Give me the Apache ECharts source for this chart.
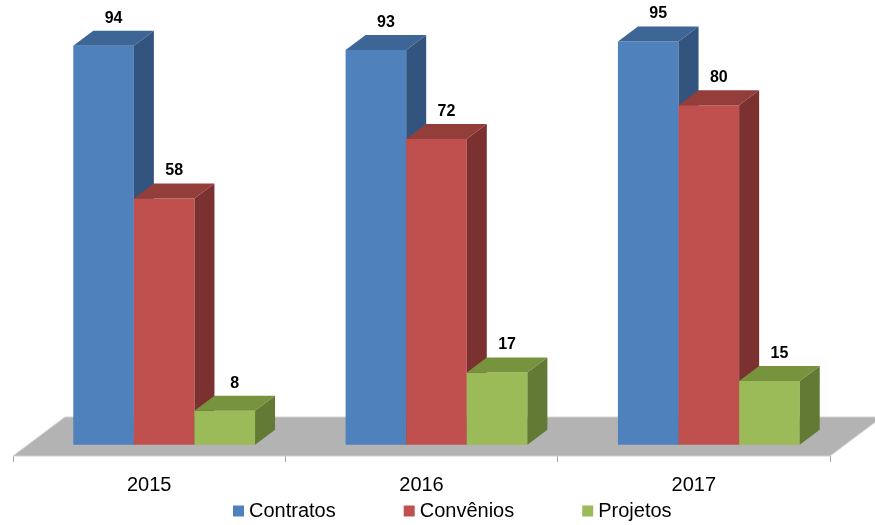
<!DOCTYPE html>
<html>
<head>
<meta charset="utf-8">
<script src="https://cdn.jsdelivr.net/npm/echarts@6/dist/echarts.min.js"></script>
<style>
  html, body { margin: 0; padding: 0; background: #ffffff; }
  #chart { width: 875px; height: 525px; }
</style>
</head>
<body>
<div id="chart"></div>
<script>
// Categories and series values
const years = ['2015', '2016', '2017'];
const contratos = [94, 93, 95];
const convenios = [58, 72, 80];
const projetos = [8, 17, 15];
const seriesNames = ['Contratos', 'Convênios', 'Projetos'];

// Face colours: front, top, side
const palette = [
  { front: '#4f81bd', top: '#3d6696', side: '#32547e' },
  { front: '#c0504d', top: '#943e3b', side: '#7a3130' },
  { front: '#9bbb59', top: '#77933d', side: '#637a34' }
];

// Oblique projection of the depth axis
const SLOPE = 0.75;       // vertical rise per horizontal pixel of depth
const BAR_FRONT = 15;     // depth where bar fronts sit
const BAR_DEPTH = 20;     // bar thickness in depth
const FLOOR_DEPTH = 52;   // floor depth
const BAR_FRAC = 0.2225;  // bar width as a share of the category band

function barRenderer(k) {
  return function (params, api) {
    const ci = api.value(0);
    const v = api.value(1);
    const base = api.coord([ci, 0]);
    const top = api.coord([ci, v]);
    const band = api.size([1, 0])[0];
    const bw = band * BAR_FRAC;
    const gx = base[0] - 1.5 * bw + k * bw;
    const x0 = gx + BAR_FRONT, x1 = x0 + bw;
    const yb = base[1] - BAR_FRONT * SLOPE;
    const yt = top[1] - BAR_FRONT * SLOPE;
    const dx = BAR_DEPTH, dy = BAR_DEPTH * SLOPE;
    const c = palette[k];
    return {
      type: 'group',
      children: [
        { type: 'polygon', shape: { points: [[x0, yb], [x1, yb], [x1, yt], [x0, yt]] },
          style: { fill: c.front } },
        { type: 'polygon', shape: { points: [[x0, yt], [x1, yt], [x1 + dx, yt - dy], [x0 + dx, yt - dy]] },
          style: { fill: c.top } },
        { type: 'polygon', shape: { points: [[x1, yt], [x1 + dx, yt - dy], [x1 + dx, yb - dy], [x1, yb]] },
          style: { fill: c.side } },
        { type: 'text', z2: 10,
          style: { text: String(v), x: (x0 + x1) / 2 + dx / 2, y: yt - dy - 12.5,
                   align: 'center', verticalAlign: 'middle',
                   font: 'bold 16px "Liberation Sans", Arial, sans-serif', fill: '#000000' } }
      ]
    };
  };
}

function floorRenderer(params, api) {
  const band = api.size([1, 0])[0];
  const l = api.coord([0, 0]);
  const r = api.coord([years.length - 1, 0]);
  const xl = l[0] - band / 2, xr = r[0] + band / 2, y = l[1];
  const dx = FLOOR_DEPTH, dy = FLOOR_DEPTH * SLOPE;
  return {
    type: 'polygon',
    shape: { points: [[xl, y], [xr, y], [xr + dx, y - dy], [xl + dx, y - dy]] },
    style: { fill: '#b3b3b3', stroke: '#d2d2d2', lineWidth: 1 }
  };
}

const valueSets = [contratos, convenios, projetos];

const option = {
  animation: false,
  grid: { left: 13, right: 45, top: 31.5, bottom: 69 },
  xAxis: {
    type: 'category',
    data: years,
    axisLine: { show: false },
    axisTick: { show: true, length: 6, lineStyle: { color: '#a0a0a0' } },
    axisLabel: { color: '#000000', fontSize: 20, margin: 19,
                 fontFamily: '"Liberation Sans", Arial, sans-serif' },
    splitLine: { show: false }
  },
  yAxis: { type: 'value', min: 0, max: 100, show: false },
  legend: {
    left: 228, top: 496,
    itemWidth: 11, itemHeight: 11, itemGap: 68,
    icon: 'rect',
    textStyle: { color: '#000000', fontSize: 20, fontFamily: '"Liberation Sans", Arial, sans-serif' },
    data: seriesNames.map((n, i) => ({ name: n, itemStyle: { color: palette[i].front } }))
  },
  series: [
    { type: 'custom', name: 'floor', silent: true, z: 1,
      renderItem: floorRenderer, data: [[0, 0]], encode: { x: 0, y: 1 } }
  ].concat(seriesNames.map((n, k) => ({
    type: 'custom', name: n, z: 2 + k,
    itemStyle: { color: palette[k].front },
    renderItem: barRenderer(k),
    data: valueSets[k].map((v, i) => [i, v]),
    encode: { x: 0, y: 1 }
  })))
};

const chart = echarts.init(document.getElementById('chart'), null, { renderer: 'canvas' });
chart.setOption(option);
</script>
</body>
</html>
